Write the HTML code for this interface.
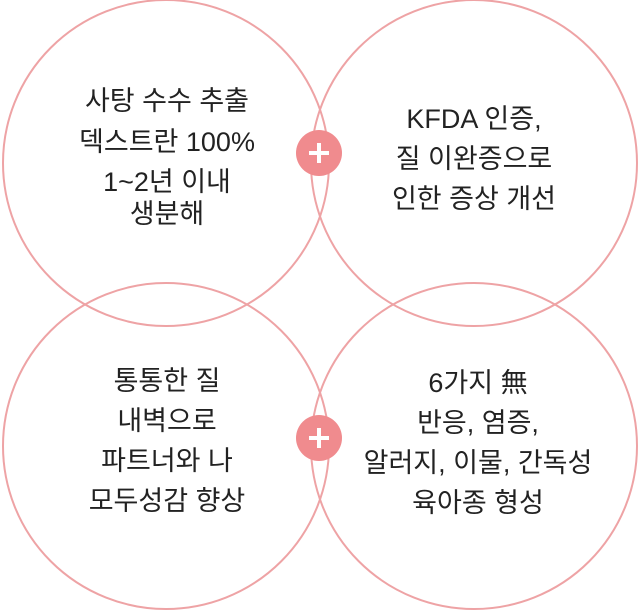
<!DOCTYPE html>
<html><head><meta charset="utf-8"><style>
body{margin:0;background:#fff;width:640px;height:610px;overflow:hidden}
svg text{font-family:"Liberation Sans","Noto Sans CJK KR",sans-serif;font-size:27px;letter-spacing:0;fill:#222;text-anchor:middle}
</style></head><body>
<svg width="640" height="610" xmlns="http://www.w3.org/2000/svg">
<g fill="none" stroke="#eea3a5" stroke-width="2">
<circle cx="166" cy="163" r="163"/>
<circle cx="474" cy="163" r="163"/>
<circle cx="166" cy="446" r="163"/>
<circle cx="474" cy="446" r="163"/>
</g>
<g fill="#f08b8e">
<circle cx="319" cy="153" r="23"/>
<circle cx="319" cy="438" r="23"/>
</g>
<g stroke="#fff" stroke-width="4">
<line x1="309" y1="153" x2="329" y2="153"/><line x1="319" y1="143" x2="319" y2="163"/>
<line x1="309" y1="438" x2="329" y2="438"/><line x1="319" y1="428" x2="319" y2="448"/>
</g>
<text x="167" y="110">사탕 수수 추출</text>
<text x="167" y="151">덱스트란 100%</text>
<text x="167" y="191">1~2년 이내</text>
<text x="167" y="223">생분해</text>
<text x="474" y="128">KFDA 인증,</text>
<text x="474" y="168">질 이완증으로</text>
<text x="474" y="208">인한 증상 개선</text>
<text x="167" y="390">통통한 질</text>
<text x="167" y="430">내벽으로</text>
<text x="167" y="470">파트너와 나</text>
<text x="167" y="510">모두성감 향상</text>
<text x="478" y="392">6가지 無</text>
<text x="478" y="432">반응, 염증,</text>
<text x="478" y="472">알러지, 이물, 간독성</text>
<text x="478" y="512">육아종 형성</text>
</svg>
</body></html>
